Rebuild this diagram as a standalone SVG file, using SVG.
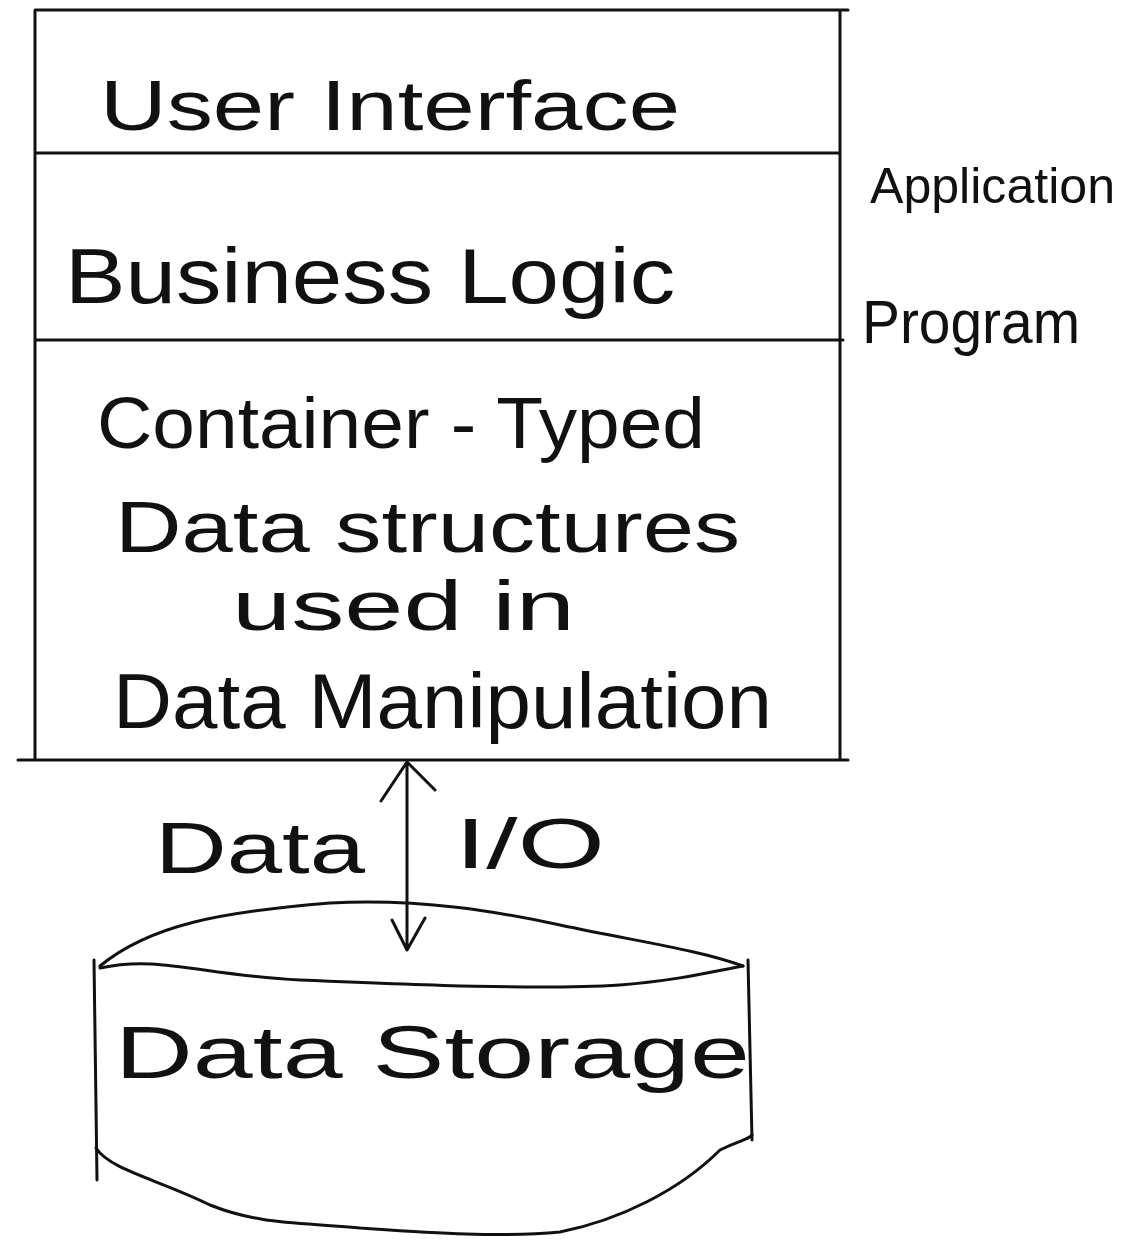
<svg xmlns="http://www.w3.org/2000/svg" width="1137" height="1241" viewBox="0 0 1137 1241">
<style>
.ln{fill:none;stroke:#111;stroke-width:3;stroke-linecap:round;stroke-linejoin:round}
.t{font-family:"Liberation Sans","DejaVu Sans",sans-serif;fill:#111;font-weight:normal}
</style>
<rect width="1137" height="1241" fill="#fff"/>
<g id="app-stack">
  <path class="ln" d="M35,10 L848,10 M35,10 L35,758 M840,10 L840,760 M35,153 L838,153 M35,340 L843,340 M18,760 L848,760"/>
</g>
<g id="ui-layer"><text class="t" x="100" y="130" font-size="70" textLength="580" lengthAdjust="spacingAndGlyphs">User Interface</text></g>
<g id="logic-layer"><text class="t" x="65" y="303" font-size="78" textLength="610" lengthAdjust="spacingAndGlyphs">Business Logic</text></g>
<g id="data-layer">
  <text class="t" x="97" y="448" font-size="72" textLength="608" lengthAdjust="spacingAndGlyphs">Container - Typed</text>
  <text class="t" x="115" y="552" font-size="72" textLength="625" lengthAdjust="spacingAndGlyphs">Data structures</text>
  <text class="t" x="232" y="630" font-size="70" textLength="343" lengthAdjust="spacingAndGlyphs">used in</text>
  <text class="t" x="113" y="728" font-size="78" textLength="659" lengthAdjust="spacingAndGlyphs">Data Manipulation</text>
</g>
<g id="app-label">
  <text class="t" x="870" y="203" font-size="50" textLength="245" lengthAdjust="spacingAndGlyphs">Application</text>
  <text class="t" x="862" y="343" font-size="62" textLength="218" lengthAdjust="spacingAndGlyphs">Program</text>
</g>
<g id="connectors">
  <path class="ln" d="M407,762 L407,950 M381,801 L407,762 L435,790 M392,920 L407,950 L425,918"/>
  <text class="t" x="155" y="873" font-size="72" textLength="210" lengthAdjust="spacingAndGlyphs">Data</text>
  <text class="t" x="455" y="868" font-size="70" textLength="150" lengthAdjust="spacingAndGlyphs">I/O</text>
</g>
<g id="data-storage">
  <path class="ln" d="M100,966 C150,925 220,912 330,903 C420,898 500,912 560,925 C640,942 700,950 743,966"/>
  <path class="ln" d="M100,968 C160,955 200,975 300,980 C420,985 540,990 620,985 C680,980 710,972 743,966"/>
  <path class="ln" d="M94,960 L97,1180 M748,960 L750,1050 L752,1140"/>
  <path class="ln" d="M96,1148 C110,1170 160,1180 210,1205 C260,1225 300,1222 360,1228 C420,1232 500,1238 560,1232 C620,1220 680,1190 720,1150 C740,1140 748,1140 752,1135"/>
  <text class="t" x="115" y="1078" font-size="74" textLength="635" lengthAdjust="spacingAndGlyphs">Data Storage</text>
</g>
</svg>
